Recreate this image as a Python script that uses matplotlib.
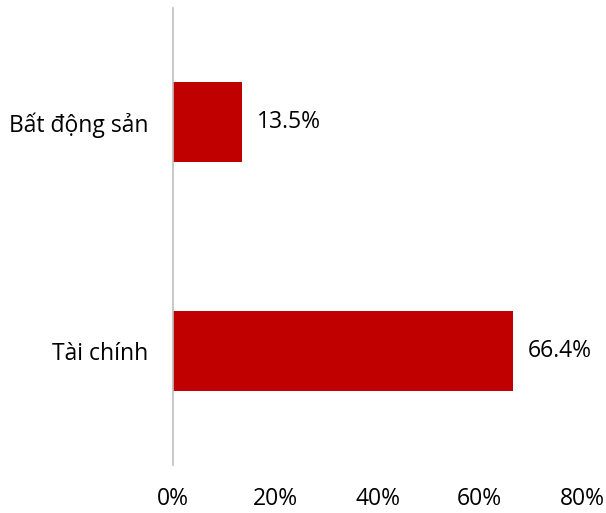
import matplotlib.pyplot as plt
from matplotlib.ticker import FuncFormatter

# du lieu
categories = ["Tài chính", "Bất động sản"]
values = [66.4, 13.5]
x_ticks = [0, 20, 40, 60, 80]

bar_color = "#C00000"
plt.rcParams["font.family"] = ["Open Sans", "DejaVu Sans"]

fig = plt.figure(figsize=(6.06, 5.13), dpi=100)
ax = fig.add_axes([0.2855, 0.0936, 0.675, 0.891])

pos = list(range(len(categories)))
bars = ax.barh(pos, values, height=0.35, color=bar_color)

for b, v in zip(bars, values):
    ax.text(b.get_width() + 3.0, b.get_y() + b.get_height() / 2, f"{v:.1f}%",
            va="center", ha="left", fontsize=16.5, color="black")

ax.set_xlim(0, 80)
ax.set_ylim(-0.5, len(categories) - 0.5)
ax.set_xticks(x_ticks)
ax.xaxis.set_major_formatter(FuncFormatter(lambda x, _: f"{x:.0f}%"))
ax.set_yticks(pos)
ax.set_yticklabels(categories)

for s in ["top", "right", "bottom"]:
    ax.spines[s].set_visible(False)
ax.spines["left"].set_color("#BFBFBF")
ax.spines["left"].set_linewidth(1.2)
ax.tick_params(axis="x", length=0, pad=16, labelsize=16.5)
ax.tick_params(axis="y", length=0, pad=18, labelsize=16.5)

fig.savefig("out.png", dpi=100)
